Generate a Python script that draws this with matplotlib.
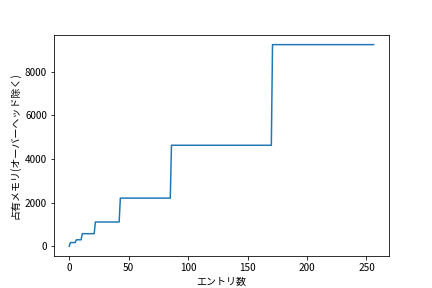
import matplotlib
matplotlib.use("Agg")
import matplotlib.pyplot as plt
import numpy as np

plt.rcParams['font.family'] = ['Noto Sans CJK JP', 'DejaVu Sans']

# memory used (bytes, overhead removed) for each run of entry counts
level_start = [0, 1, 6, 11, 22, 43, 86, 171]
level_size = [0, 168, 296, 576, 1112, 2208, 4632, 9248]
max_entries = 256

entries = np.arange(max_entries + 1)
idx = np.searchsorted(level_start, entries, side='right') - 1
memory = np.array(level_size)[idx]

fig, ax = plt.subplots(figsize=(6, 4), dpi=72)
ax.plot(entries, memory)
ax.set_xlabel('エントリ数')
ax.set_ylabel('占有メモリ(オーバーヘッド除く)')

plt.savefig('out.png')
